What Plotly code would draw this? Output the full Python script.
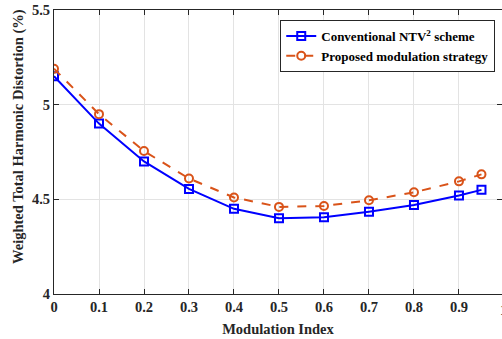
import plotly.graph_objects as go

mod_index = [0, 0.1, 0.2, 0.3, 0.4, 0.5, 0.6, 0.7, 0.8, 0.9, 0.95]
conventional = [5.15, 4.90, 4.70, 4.555, 4.45, 4.40, 4.405, 4.435, 4.47, 4.52, 4.55]
proposed = [5.19, 4.95, 4.755, 4.61, 4.51, 4.46, 4.465, 4.495, 4.537, 4.595, 4.632]
x_ticks = [0, 0.1, 0.2, 0.3, 0.4, 0.5, 0.6, 0.7, 0.8, 0.9]
y_ticks = [4, 4.5, 5, 5.5]

FONT = "Liberation Serif"
TXT = "#262626"

fig = go.Figure()
fig.add_trace(go.Scatter(
    x=mod_index, y=conventional, mode="lines+markers",
    name="<b>Conventional NTV<sup>2</sup> scheme</b>",
    line=dict(color="#0000FF", width=2),
    marker=dict(symbol="square-open", size=8, color="#0000FF", line=dict(width=2)),
))
fig.add_trace(go.Scatter(
    x=mod_index, y=proposed, mode="lines+markers",
    name="<b>Proposed modulation strategy</b>",
    line=dict(color="#D95319", width=2, dash="dash"),
    marker=dict(symbol="circle-open", size=8, color="#D95319", line=dict(width=2)),
))

fig.update_layout(
    width=502, height=339,
    margin=dict(l=54, r=0, t=10, b=45),
    paper_bgcolor="white", plot_bgcolor="white",
    font=dict(family=FONT, size=14, color=TXT),
    showlegend=True,
    legend=dict(
        x=0.505, y=0.965, xanchor="left", yanchor="top",
        bgcolor="white", bordercolor=TXT, borderwidth=1,
        font=dict(family=FONT, size=13, color="#000000"),
        tracegroupgap=0, itemwidth=30,
    ),
)
fig.update_xaxes(
    range=[0, 0.9956], tickvals=x_ticks,
    ticktext=[f"<b>{v:g}</b>" for v in x_ticks],
    showgrid=True, gridcolor="#E3E3E3", gridwidth=1,
    ticks="inside", ticklen=5, tickcolor=TXT,
    showline=True, linecolor=TXT, linewidth=1, mirror="ticks",
    zeroline=False,
    title=dict(text="<b>Modulation Index</b>", font=dict(family=FONT, size=14.5), standoff=9),
    tickfont=dict(family=FONT, size=14.5, color=TXT),
)
fig.update_yaxes(
    range=[4, 5.5], tickvals=y_ticks,
    ticktext=[f"<b>{v:g}</b>" for v in y_ticks],
    showgrid=True, gridcolor="#E3E3E3", gridwidth=1,
    ticks="inside", ticklen=5, tickcolor=TXT,
    showline=True, linecolor=TXT, linewidth=1, mirror="ticks",
    zeroline=False,
    tickfont=dict(family=FONT, size=14.5, color=TXT),
)
# y-axis title placed like the reference (slightly above centre)
fig.add_annotation(
    x=-0.078, y=0.553, xref="paper", yref="paper",
    text="<b>Weighted Total Harmonic Distortion (%)</b>", textangle=-90,
    showarrow=False, xanchor="center", yanchor="middle",
    font=dict(family=FONT, size=14.5, color=TXT),
)
# clipped last tick label "1" at the right edge
fig.add_annotation(
    x=1.00446, y=0, xref="paper", yref="paper", text="<b>1</b>", showarrow=False,
    xanchor="center", yanchor="top", yshift=-6,
    font=dict(family=FONT, size=14.5, color=TXT),
)

fig.write_html("out.html")
